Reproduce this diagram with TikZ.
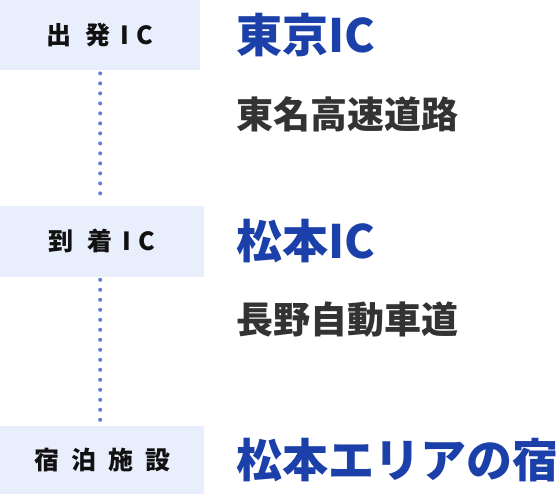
\documentclass[tikz,border=0pt]{standalone}
\usepackage{fontspec}
\usetikzlibrary{positioning}
\newfontfamily\jpfont{Noto Sans CJK JP}
\definecolor{boxfill}{RGB}{233,238,252}
\definecolor{dotblue}{RGB}{92,125,225}
\definecolor{titleblue}{RGB}{28,64,170}
\definecolor{routegrey}{RGB}{51,51,51}
\definecolor{labelblack}{RGB}{17,17,17}
\newcommand\lsp{\kern14pt}
\tikzstyle{stopbox}=[rectangle, fill=boxfill, inner sep=0pt, text=labelblack, font=\jpfont\bfseries\fontsize{25pt}{25pt}\selectfont]
\tikzstyle{title}=[inner sep=0pt, anchor=west, text=titleblue, font=\jpfont\bfseries\fontsize{46pt}{46pt}\selectfont]
\tikzstyle{route}=[inner sep=0pt, anchor=west, text=routegrey, font=\jpfont\bfseries\fontsize{37pt}{37pt}\selectfont]
\tikzstyle{dotline}=[dotblue, line width=4pt, line cap=round, dash pattern=on 0pt off 10pt, shorten <=3pt, shorten >=2pt]

\begin{document}
\begin{tikzpicture}
            %route stops down the left, names and roads to their right
            \useasboundingbox (0pt,0pt) rectangle (558pt,-494pt);
            \node[stopbox, minimum width=200pt, minimum height=70pt, anchor=north west](dep) at (0pt,0pt){出\lsp 発\kern10pt I\kern7pt C};
            \node[stopbox, minimum width=204pt, minimum height=71pt, below right=135pt and 0pt of dep.south west](arr){到\lsp 着\kern10pt I\kern7pt C};
            \node[stopbox, minimum width=204pt, minimum height=69pt, below right=149pt and 0pt of arr.south west](hotel){宿\kern12pt 泊\kern12pt 施\kern12pt 設};
            \draw[dotline] (dep.south) -- (dep.south |- arr.north);
            \draw[dotline] (dep.south |- arr.south) -- (dep.south |- hotel.north);
            \node[title, right=36pt of dep.east](tokyo){東京IC};
            \node[route](tomei) at ([yshift=-79pt]tokyo.west){東名高速道路};
            \node[title, right=32pt of arr.east](matsumoto){松本IC};
            \node[route](nagano) at ([yshift=-78pt]matsumoto.west){長野自動車道};
            \node[title, right=32pt of hotel.east](stay){松本エリアの宿};
        \end{tikzpicture}
\end{document}
